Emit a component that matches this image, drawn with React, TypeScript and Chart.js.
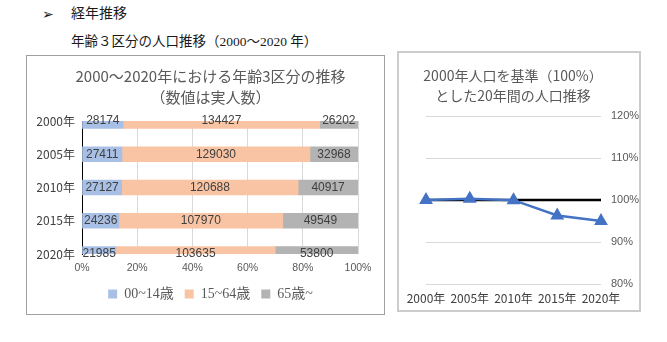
import React, { useEffect, useRef } from 'react';
import { Chart, registerables } from 'chart.js';

Chart.register(...registerables);

const years = ['2000年', '2005年', '2010年', '2015年', '2020年'];
const ageGroups = ['00~14歳', '15~64歳', '65歳~'];
const pop0to14 = [28174, 27411, 27127, 24236, 21985];
const pop15to64 = [134427, 129030, 120688, 107970, 103635];
const pop65plus = [26202, 32968, 40917, 49549, 53800];
const populationIndex = [100, 100.3, 99.96, 96.3, 95.0];
const baseline = [100, 100, 100, 100, 100];
const shareStep = 20;
const indexMin = 80;
const indexMax = 120;
const indexStep = 10;

const groupColors = ['#A9C0E6', '#F9C4A3', '#B3B3B3'];

const totals = years.map((_, i) => pop0to14[i] + pop15to64[i] + pop65plus[i]);
const toShare = (arr: number[]) => arr.map((v, i) => (v / totals[i]) * 100);

const JP = '"Noto Sans CJK JP"';

const barLabelPlugin = {
  id: 'barLabels',
  afterDatasetsDraw(chart: any) {
    const { ctx } = chart;
    ctx.save();
    ctx.font = '12px "Liberation Sans", "Noto Sans CJK JP"';
    ctx.fillStyle = '#404040';
    ctx.textAlign = 'center';
    ctx.textBaseline = 'middle';
    chart.data.datasets.forEach((ds: any, di: number) => {
      const meta = chart.getDatasetMeta(di);
      meta.data.forEach((el: any, i: number) => {
        const p = el.getProps(['x', 'base', 'y'], true);
        ctx.fillText(String(ds.rawValues[i]), (p.x + p.base) / 2, p.y);
      });
    });
    ctx.restore();
  },
};

function BarChart() {
  const ref = useRef<HTMLCanvasElement>(null);
  useEffect(() => {
    const series = [pop0to14, pop15to64, pop65plus];
    const chart = new Chart(ref.current!, {
      type: 'bar',
      data: {
        labels: years,
        datasets: series.map((s, k) => ({
          label: ageGroups[k],
          data: toShare(s),
          rawValues: s,
          backgroundColor: groupColors[k],
          borderWidth: 0,
          barThickness: 15,
          clip: 0,
        })) as any,
      },
      options: {
        indexAxis: 'y',
        responsive: false,
        animation: false,
        layout: { padding: { left: 10, right: 0, top: 0, bottom: 3 } },
        plugins: {
          tooltip: { enabled: false },
          title: {
            display: true,
            text: ['2000～2020年における年齢3区分の推移', '（数値は実人数）'],
            color: '#595959',
            font: { family: JP, size: 15, weight: 'normal', lineHeight: 1.4 },
            padding: { top: 10, bottom: 13 },
          },
          legend: {
            position: 'bottom',
            labels: {
              boxWidth: 9,
              boxHeight: 9,
              padding: 11,
              color: '#595959',
              font: { family: '"Liberation Serif", "Noto Sans CJK JP"', size: 14 },
            },
          },
        },
        scales: {
          x: {
            stacked: true,
            min: 0,
            max: 100,
            ticks: {
              stepSize: shareStep,
              callback: (v: any) => v + '%',
              color: '#595959',
              font: { family: '"Liberation Sans"', size: 10.5 },
              padding: 8,
              maxRotation: 0,
            },
            grid: { color: '#D9D9D9', drawTicks: false },
            border: { display: false },
            afterFit: (s: any) => {
              s.height = 22;
              s.paddingRight = 26;
              s.paddingLeft = 0;
            },
          },
          y: {
            stacked: true,
            offset: false,
            ticks: {
              color: '#404040',
              font: { family: JP, size: 12 },
              padding: 7,
            },
            grid: { display: false, drawTicks: false },
            border: { display: true, color: '#000000', width: 1 },
            afterFit: (s: any) => {
              s.width = 45;
            },
          },
        },
      } as any,
      plugins: [barLabelPlugin],
    });
    return () => chart.destroy();
  }, []);
  return <canvas ref={ref} width={357} height={258} style={{ display: 'block' }} />;
}

function LineChart() {
  const ref = useRef<HTMLCanvasElement>(null);
  useEffect(() => {
    const chart = new Chart(ref.current!, {
      type: 'line',
      data: {
        labels: years,
        datasets: [
          {
            label: '人口推移',
            data: populationIndex,
            borderColor: '#4472C4',
            backgroundColor: '#4472C4',
            borderWidth: 2.5,
            pointStyle: 'triangle',
            pointRadius: 5.5,
            pointBackgroundColor: '#4472C4',
            pointBorderColor: '#4472C4',
            tension: 0,
          },
          {
            label: '基準',
            data: baseline,
            borderColor: '#000000',
            borderWidth: 2.5,
            pointRadius: 0,
            tension: 0,
          },
        ],
      },
      options: {
        responsive: false,
        animation: false,
        layout: { padding: { left: 27, right: 0, top: 63, bottom: 0 } },
        plugins: { legend: { display: false }, tooltip: { enabled: false } },
        scales: {
          x: {
            ticks: {
              color: '#404040',
              font: { family: JP, size: 12 },
              padding: 7,
              maxRotation: 0,
              autoSkip: false,
            },
            grid: { display: false, drawTicks: false },
            border: { display: false },
            afterFit: (s: any) => {
              s.height = 26;
            },
          },
          y: {
            position: 'right',
            min: indexMin,
            max: indexMax,
            ticks: {
              stepSize: indexStep,
              callback: (v: any) => v + '%',
              color: '#595959',
              font: { family: '"Liberation Sans"', size: 11 },
              padding: 10,
            },
            grid: { color: '#D9D9D9', drawTicks: false },
            border: { display: false },
            afterFit: (s: any) => {
              s.width = 38;
            },
          },
        },
      } as any,
    });
    return () => chart.destroy();
  }, []);
  return <canvas ref={ref} width={240} height={257} style={{ display: 'block' }} />;
}

export default function App() {
  const heading = '"Liberation Serif", "Noto Sans CJK JP"';
  return (
    <div
      style={{
        position: 'absolute',
        left: 0,
        top: 0,
        width: 667,
        height: 342,
        background: '#ffffff',
        overflow: 'hidden',
      }}
    >
      <div
        style={{
          position: 'absolute',
          left: 42,
          top: 4,
          fontFamily: '"DejaVu Sans"',
          fontSize: 14,
          lineHeight: '20px',
          color: '#1a1a1a',
        }}
      >
        ➢
      </div>
      <div
        style={{
          position: 'absolute',
          left: 71,
          top: 4,
          fontFamily: heading,
          fontSize: 14,
          lineHeight: '20px',
          color: '#1a1a1a',
          whiteSpace: 'nowrap',
        }}
      >
        経年推移
      </div>
      <div
        style={{
          position: 'absolute',
          left: 71,
          top: 32,
          fontFamily: heading,
          fontSize: 13.5,
          lineHeight: '20px',
          color: '#1a1a1a',
          whiteSpace: 'nowrap',
        }}
      >
        年齢３区分の人口推移（2000～2020 年）
      </div>
      <div
        style={{
          position: 'absolute',
          left: 26,
          top: 55,
          width: 359,
          height: 260,
          boxSizing: 'border-box',
          border: '1px solid #A0A0A0',
        }}
      >
        <BarChart />
      </div>
      <div
        style={{
          position: 'absolute',
          left: 397,
          top: 51,
          width: 244,
          height: 261,
          boxSizing: 'border-box',
          border: '2px solid #CCCCCC',
        }}
      >
        <LineChart />
      </div>
      <div
        style={{
          position: 'absolute',
          left: 398,
          top: 65,
          width: 230,
          textAlign: 'center',
          fontFamily: JP,
          fontSize: 14,
          lineHeight: '20px',
          color: '#595959',
          whiteSpace: 'nowrap',
        }}
      >
        <div>2000年人口を基準（100%）</div>
        <div>とした20年間の人口推移</div>
      </div>
    </div>
  );
}
